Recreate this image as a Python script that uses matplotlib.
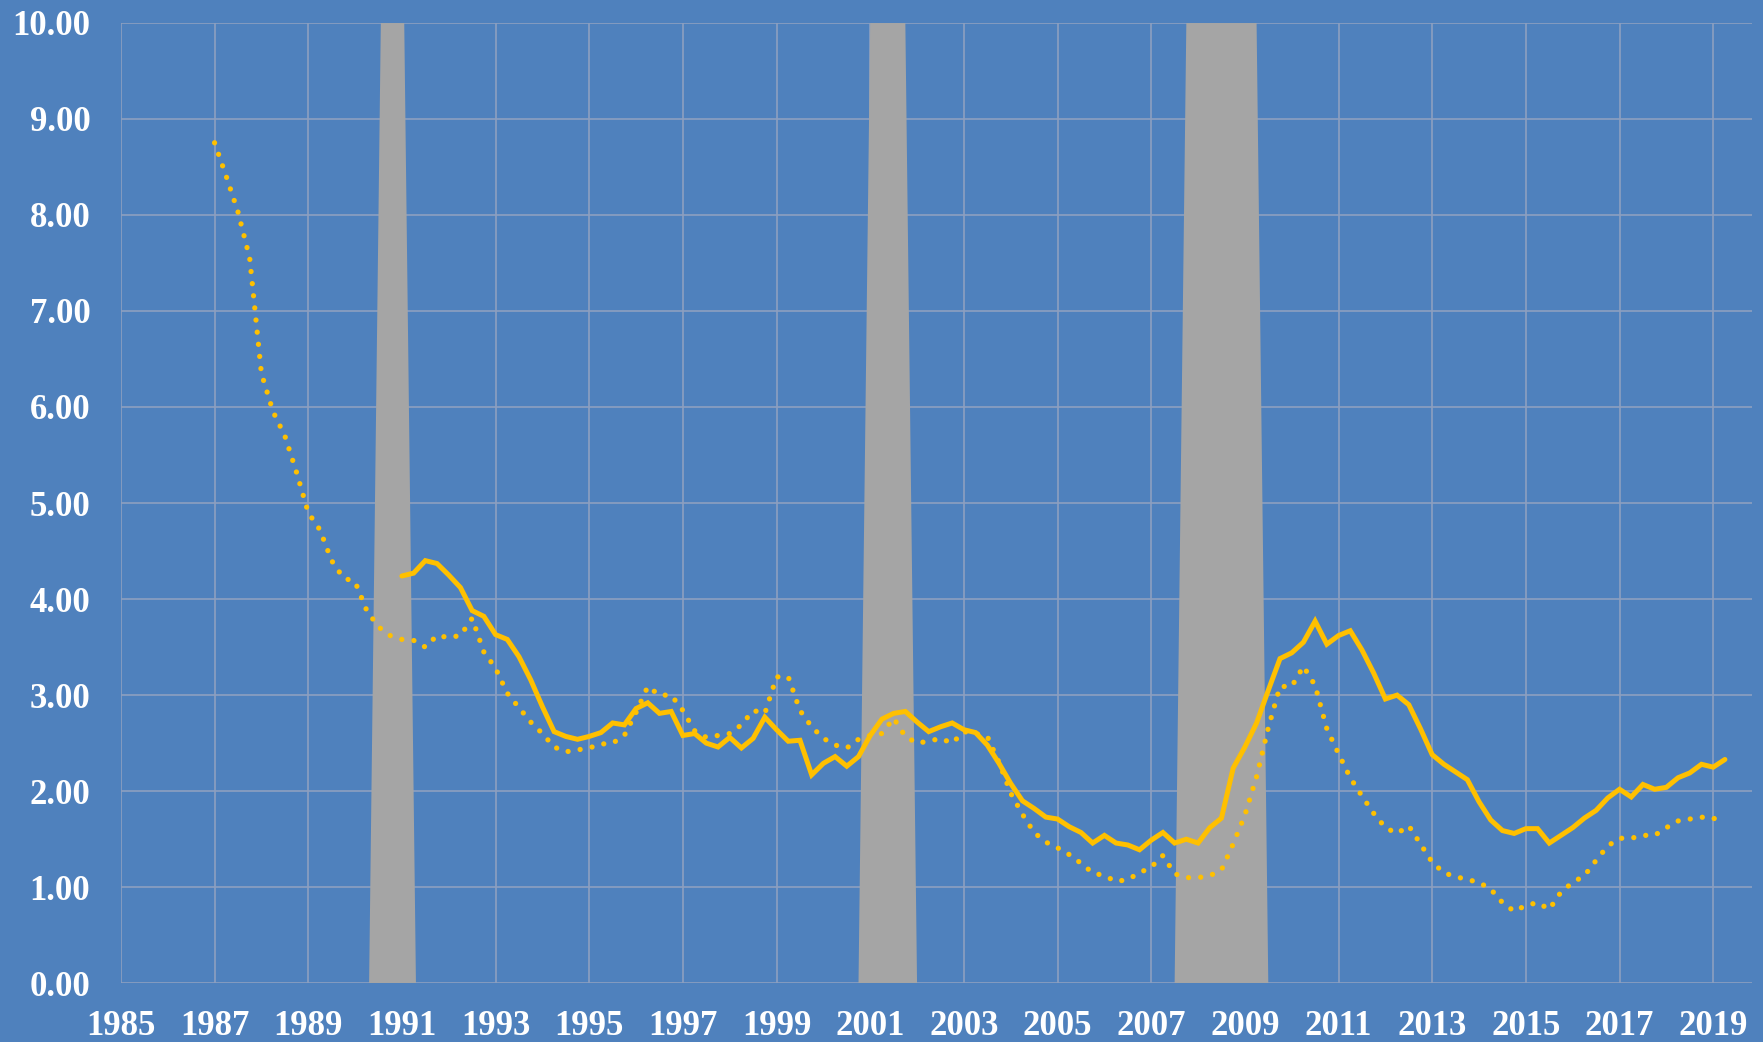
import numpy as np
import matplotlib
matplotlib.use("Agg")
import matplotlib.pyplot as plt

# ---------------- data (quarterly) ----------------
solid_start = 1991.0
solid_vals = [
    4.24, 4.27, 4.40, 4.37,  # 1991
    4.25, 4.12, 3.88, 3.82,  # 1992
    3.63, 3.58, 3.40, 3.16,  # 1993
    2.88, 2.62, 2.57, 2.54,  # 1994
    2.57, 2.61, 2.71, 2.69,  # 1995
    2.86, 2.92, 2.81, 2.83,  # 1996
    2.58, 2.60, 2.50, 2.46,  # 1997
    2.56, 2.45, 2.55, 2.77,  # 1998
    2.64, 2.52, 2.53, 2.17,  # 1999
    2.29, 2.36, 2.26, 2.36,  # 2000
    2.58, 2.75, 2.81, 2.83,  # 2001
    2.72, 2.62, 2.67, 2.71,  # 2002
    2.64, 2.61, 2.48, 2.29,  # 2003
    2.08, 1.90, 1.82, 1.73,  # 2004
    1.71, 1.63, 1.57, 1.46,  # 2005
    1.54, 1.46, 1.44, 1.39,  # 2006
    1.49, 1.57, 1.46, 1.50,  # 2007
    1.46, 1.62, 1.72, 2.24,  # 2008
    2.46, 2.71, 3.05, 3.38,  # 2009
    3.44, 3.55, 3.77, 3.53,  # 2010
    3.62, 3.67, 3.47, 3.23,  # 2011
    2.96, 3.00, 2.90, 2.65,  # 2012
    2.38, 2.28, 2.20, 2.12,  # 2013
    1.89, 1.70, 1.59, 1.56,  # 2014
    1.61, 1.61, 1.46, 1.54,  # 2015
    1.62, 1.72, 1.80, 1.93,  # 2016
    2.02, 1.94, 2.07, 2.02,  # 2017
    2.04, 2.14, 2.19, 2.28,  # 2018
    2.25, 2.33,              # 2019
]

dotted_start = 1987.0
dotted_vals = [
    8.75, 8.40, 8.03, 7.55,  # 1987
    6.35, 5.95, 5.70, 5.32,  # 1988
    4.90, 4.72, 4.40, 4.22,  # 1989
    4.18, 3.88, 3.71, 3.62,  # 1990
    3.58, 3.57, 3.50, 3.62,  # 1991
    3.60, 3.62, 3.80, 3.45,  # 1992
    3.28, 3.02, 2.87, 2.72,  # 1993
    2.60, 2.46, 2.41, 2.43,  # 1994
    2.45, 2.49, 2.50, 2.58,  # 1995
    2.82, 3.09, 3.00, 3.00,  # 1996
    2.84, 2.63, 2.56, 2.58,  # 1997
    2.60, 2.69, 2.84, 2.81,  # 1998
    3.19, 3.19, 2.84, 2.67,  # 1999
    2.55, 2.48, 2.45, 2.54,  # 2000
    2.58, 2.60, 2.76, 2.57,  # 2001
    2.50, 2.52, 2.55, 2.50,  # 2002
    2.62, 2.60, 2.57, 2.30,  # 2003
    1.98, 1.76, 1.57, 1.47,  # 2004
    1.41, 1.34, 1.25, 1.15,  # 2005
    1.12, 1.06, 1.08, 1.15,  # 2006
    1.21, 1.33, 1.14, 1.10,  # 2007
    1.10, 1.12, 1.18, 1.45,  # 2008
    1.75, 2.15, 2.66, 3.09,  # 2009
    3.09, 3.30, 3.10, 2.65,  # 2010
    2.39, 2.14, 1.95, 1.77,  # 2011
    1.62, 1.56, 1.64, 1.45,  # 2012
    1.26, 1.15, 1.11, 1.08,  # 2013
    1.05, 0.98, 0.84, 0.75,  # 2014
    0.81, 0.84, 0.77, 0.95,  # 2015
    1.05, 1.12, 1.28, 1.43,  # 2016
    1.51, 1.51, 1.54, 1.54,  # 2017
    1.62, 1.69, 1.71, 1.73,  # 2018
    1.71, 1.77,              # 2019
]

# recessions: first and last quarter flagged (year + quarter fraction)
recession_first_q = [1990.55, 2001.00, 2007.75]
recession_last_q = [1991.05, 2001.75, 2009.25]
recession_height = 10.0

x_ticks = list(range(1985, 2020, 2))
y_ticks = [0, 1, 2, 3, 4, 5, 6, 7, 8, 9, 10]

# ---------------- plot ----------------
BLUE = "#4F81BD"
GOLD = "#FFC000"
GRAY = "#A5A5A5"
GRID = "#8DA0C0"

W, H = 1763, 1042
fig = plt.figure(figsize=(W / 100, H / 100), dpi=100, facecolor=BLUE)
ax = fig.add_axes([120.9 / W, 1 - 983.3 / H, (1751.6 - 120.9) / W, (983.3 - 22.7) / H])
ax.set_facecolor(BLUE)

q = 0.25
for s, e in zip(recession_first_q, recession_last_q):
    ax.fill([s - q, s, e, e + q], [0, recession_height, recession_height, 0],
            color=GRAY, lw=0, zorder=2)

sx = solid_start + q * np.arange(len(solid_vals))
dx = dotted_start + q * np.arange(len(dotted_vals))

ax.plot(dx, dotted_vals, color=GOLD, lw=3.8, linestyle=(0, (0.01, 2.3)),
        dash_capstyle="round", zorder=3)
ax.plot(sx, solid_vals, color=GOLD, lw=3.6, solid_joinstyle="miter",
        solid_capstyle="round", zorder=4)

ax.set_xlim(1985, 2019.82)
ax.set_ylim(0, 10)
ax.set_xticks(x_ticks)
ax.set_yticks(y_ticks)
ax.set_xticklabels([str(v) for v in x_ticks])
ax.set_yticklabels([f"{v:.2f}" for v in y_ticks])

ax.grid(True, color=GRID, lw=1.2, zorder=0)
ax.set_axisbelow(True)
for sp in ax.spines.values():
    sp.set_visible(False)

for lab in ax.get_xticklabels() + ax.get_yticklabels():
    lab.set_fontfamily(["Liberation Serif", "DejaVu Serif"])
    lab.set_fontsize(25)
    lab.set_fontweight("bold")
    lab.set_color("white")
ax.tick_params(axis="both", length=0)
ax.tick_params(axis="y", pad=22)
ax.tick_params(axis="x", pad=19)

fig.savefig("out.png", dpi=100, facecolor=BLUE)
